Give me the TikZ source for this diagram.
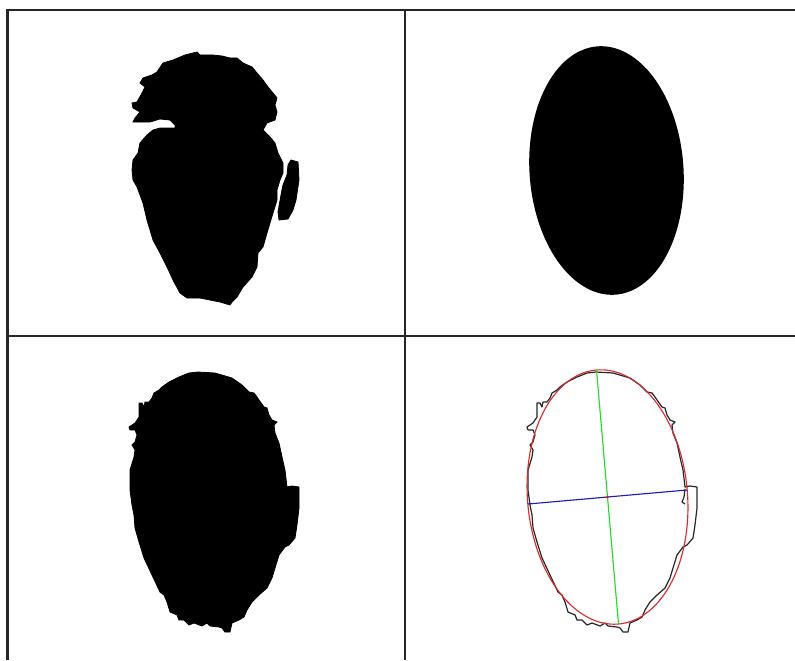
\documentclass[tikz,border=0pt]{standalone}
\begin{document}
\begin{tikzpicture}[x=0.75pt,y=-0.75pt,
  gridline/.style={line width=1.6pt,black!85},
  blob/.style={fill=black,draw=black,line width=0.6pt,line join=miter},
  contour/.style={draw=black!85,line width=0.9pt,line join=round},
  fitellipse/.style={draw={rgb,255:red,215;green,45;blue,45},line width=0.85pt},
  majoraxis/.style={draw={rgb,255:red,40;green,215;blue,40},line width=0.85pt},
  minoraxis/.style={draw={rgb,255:red,30;green,30;blue,180},line width=0.85pt}]
\useasboundingbox (0,0) rectangle (795,660);
\fill[white] (0,0) rectangle (795,660);

% grid
\draw[gridline] (7.5,660) -- (7.5,10) -- (795,10);
\draw[gridline] (405,10) -- (405,660);
\draw[gridline] (7.5,336) -- (795,336);

% top-left: raw silhouette
\fill[blob] (197,52) -- (200,55) -- (213,55) -- (222,56) -- (230,58) -- (237,58) -- (243,63) -- (252,67) -- (257,73) -- (263,80) -- (268,87) -- (273,93) -- (277,98) -- (275,105) -- (277,112) -- (275,120) -- (267,123) -- (263,130) -- (270,137) -- (275,143) -- (278,153) -- (283,163) -- (283,173) -- (280,180) -- (277,190) -- (277,200) -- (273,213) -- (270,223) -- (267,233) -- (263,247) -- (258,253) -- (257,267) -- (252,277) -- (243,287) -- (237,297) -- (232,302) -- (230,305) -- (220,302) -- (210,300) -- (200,298) -- (187,298) -- (180,293) -- (173,280) -- (167,267) -- (160,253) -- (153,240) -- (147,220) -- (143,203) -- (137,187) -- (133,180) -- (132,170) -- (133,160) -- (138,153) -- (140,143) -- (147,135) -- (153,130) -- (160,128) -- (175,128) -- (175,125) -- (170,120) -- (160,119) -- (150,122) -- (133,122) -- (135,118) -- (140,112) -- (133,108) -- (132,103) -- (137,102) -- (142,93) -- (145,87) -- (140,83) -- (143,78) -- (152,75) -- (157,72) -- (163,63) -- (173,60) -- (185,55) -- cycle;
\fill[blob] (291,160) -- (298,162) -- (299,180) -- (296,200) -- (293,210) -- (288,219) -- (279,220) -- (278,212) -- (281,195) -- (283,185) -- (287,175) -- (288,165) -- cycle;

% top-right: fitted ellipse, filled
\fill[black] plot[domain=0:360,samples=140,smooth cycle]
  ({606.5 + 77*cos(\x)*0.9975 + 124.5*sin(\x)*0.070},
   {170.5 - 77*cos(\x)*0.070 + 124.5*sin(\x)*0.9975});

% bottom-left: filled silhouette
\def\headpath{(596,372) -- (613,373) -- (630,378) -- (640,385) -- (647,392) -- (652,393) -- (655,397) -- (657,400) -- (662,407) -- (665,408) -- (667,415) -- (670,420) -- (675,422) -- (672,425) -- (673,433) -- (677,443) -- (680,457) -- (683,470) -- (685,487) -- (690,486) -- (697,487) -- (697,500) -- (697,508) -- (695,525) -- (693,538) -- (687,545) -- (683,547) -- (677,555) -- (673,568) -- (670,578) -- (665,588) -- (657,595) -- (650,602) -- (645,610) -- (642,617) -- (637,620) -- (630,623) -- (628,632) -- (623,632) -- (620,628) -- (617,627) -- (608,626) -- (605,623) -- (600,626) -- (592,623) -- (587,625) -- (582,620) -- (577,620) -- (575,615) -- (568,612) -- (565,602) -- (562,595) -- (558,592) -- (550,575) -- (542,558) -- (537,542) -- (533,528) -- (532,515) -- (530,505) -- (528,490) -- (528,470) -- (532,457) -- (533,450) -- (530,445) -- (533,442) -- (535,435) -- (533,430) -- (528,430) -- (527,427) -- (530,425) -- (533,423) -- (537,417) -- (537,403) -- (540,403) -- (542,407) -- (543,402) -- (547,402) -- (550,398) -- (552,393) -- (557,390) -- (560,387) -- (567,382) -- (577,377) -- (587,373) -- cycle}
\fill[blob,shift={(-398,0)}] \headpath;

% bottom-right: contour, fitted ellipse and axes
\draw[contour] \headpath;
\draw[contour] (685,489) -- (684,497) -- (682,502) -- (685,504);
\draw[fitellipse] plot[domain=0:360,samples=140,smooth cycle]
  ({607.5 + 80*cos(\x)*0.9963 + 127.5*sin(\x)*0.0863},
   {497 - 80*cos(\x)*0.0863 + 127.5*sin(\x)*0.9963});
\coordinate (ctr) at (607.5,497);
\coordinate (mjA) at (596.5,370);
\coordinate (mjB) at (618.5,624);
\coordinate (mnA) at (528,504);
\coordinate (mnB) at (687,490);
\draw[majoraxis] (mjA) -- (ctr) -- (mjB);
\draw[minoraxis] (mnA) -- (ctr) -- (mnB);
\fill[red] (ctr) circle[radius=1.3];
\end{tikzpicture}
\end{document}
